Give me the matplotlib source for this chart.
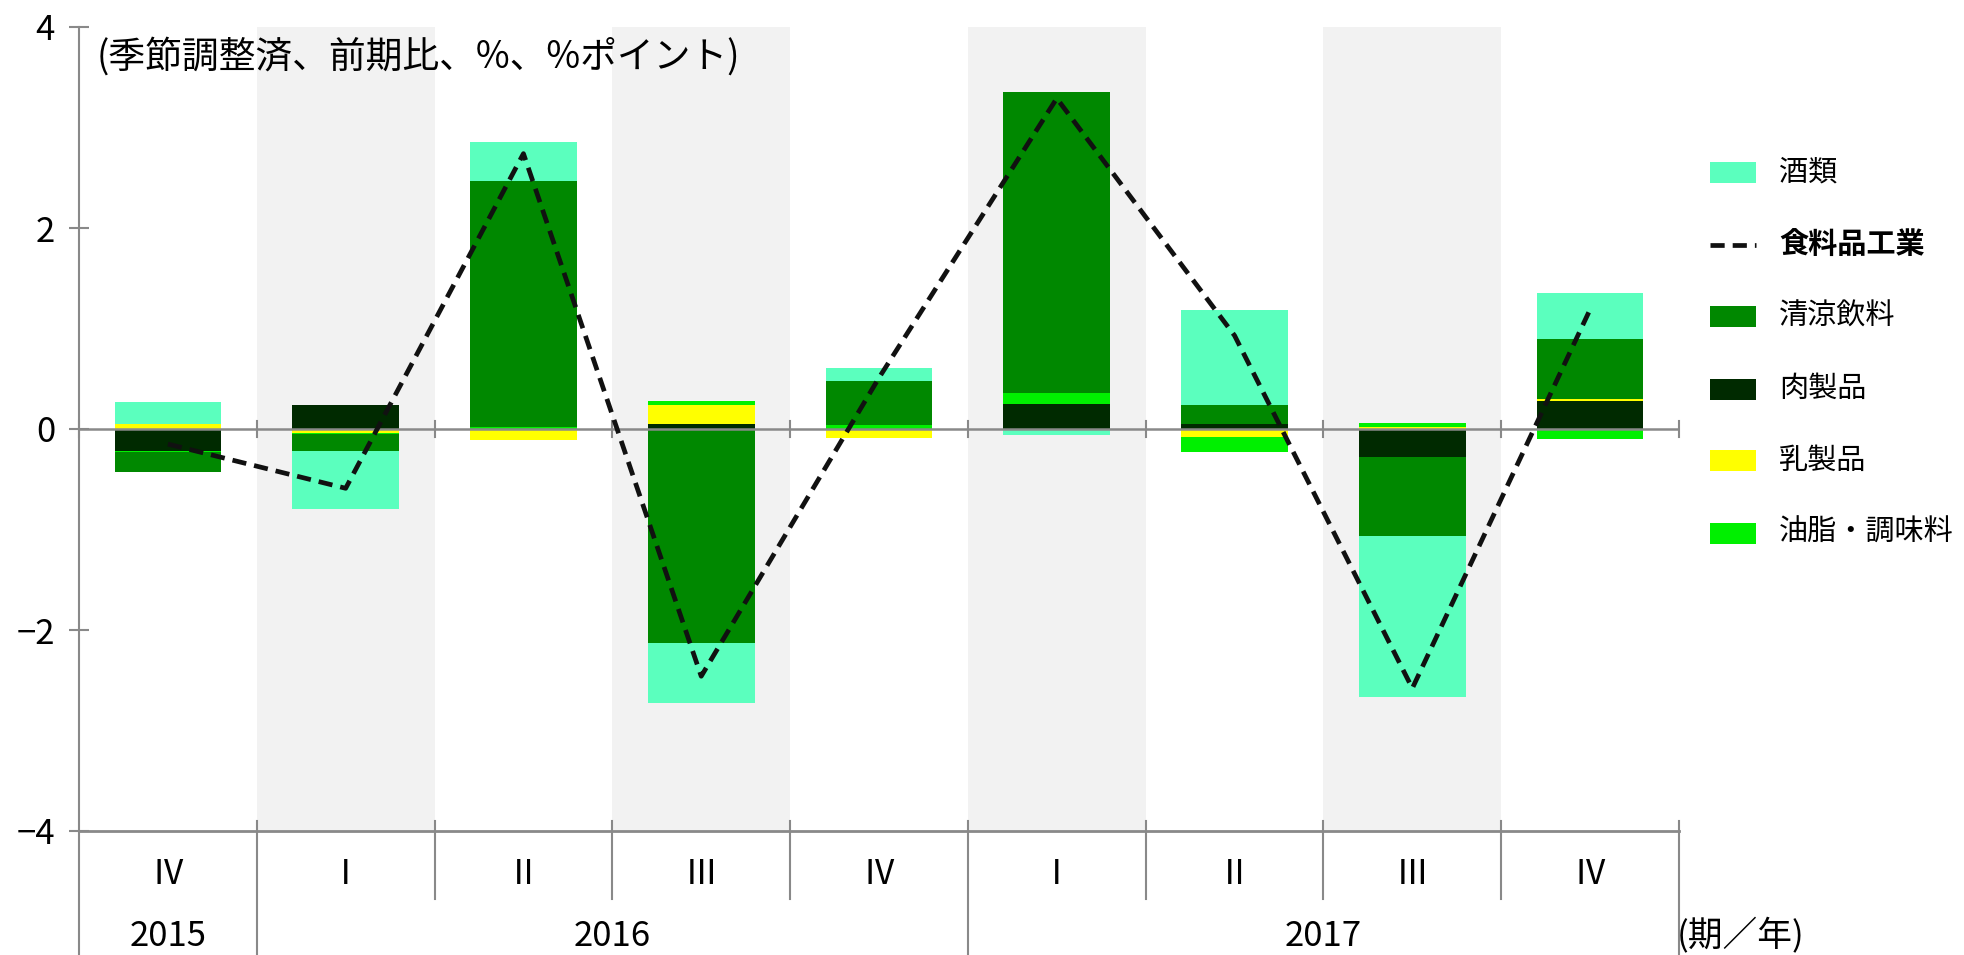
import matplotlib
matplotlib.use("Agg")
import matplotlib.pyplot as plt
import numpy as np
from matplotlib.patches import Rectangle
from matplotlib.lines import Line2D
import matplotlib.transforms as mtransforms

plt.rcParams['font.family'] = ['Noto Sans CJK JP', 'DejaVu Sans']

# ---- data ----
quarters = ['Ⅳ', 'Ⅰ', 'Ⅱ', 'Ⅲ', 'Ⅳ', 'Ⅰ', 'Ⅱ', 'Ⅲ', 'Ⅳ']
years = ['2015', '2016', '2017']
year_start = [0, 1, 5]
year_end = [0, 4, 8]

# stacking order (from zero outward)
meat = [-0.22, 0.24, -0.01, 0.05, 0.00, 0.25, 0.05, -0.28, 0.28]        # 肉製品
dairy = [0.05, -0.04, -0.10, 0.19, -0.09, 0.00, -0.08, 0.02, 0.02]      # 乳製品
oils = [-0.01, -0.01, 0.02, 0.04, 0.04, 0.11, -0.15, 0.04, -0.10]       # 油脂・調味料
soft = [-0.20, -0.17, 2.45, -2.13, 0.44, 2.99, 0.19, -0.78, 0.60]       # 清涼飲料
alcohol = [0.22, -0.58, 0.39, -0.60, 0.13, -0.06, 0.94, -1.61, 0.45]    # 酒類
food_total = [-0.15, -0.59, 2.74, -2.46, 0.51, 3.29, 0.93, -2.58, 1.19]  # 食料品工業

series_names = ['肉製品', '乳製品', '油脂・調味料', '清涼飲料', '酒類']
series_vals = [meat, dairy, oils, soft, alcohol]
series_colors = ['#002A00', '#FFFF00', '#00F000', '#008800', '#5BFFBE']
line_name = '食料品工業'

legend_order = ['酒類', line_name, '清涼飲料', '肉製品', '乳製品', '油脂・調味料']

W, H = 1964, 955
fig = plt.figure(figsize=(W / 100, H / 100), dpi=100)
ax = fig.add_axes([79 / W, 1 - 831 / H, 1600 / W, 804 / H])

GRAY = '#898989'
x = np.arange(len(quarters))

# shaded bands
for i in [1, 3, 5, 7]:
    ax.axvspan(i - 0.5, i + 0.5, color='#F2F2F2', zorder=0, lw=0)

pos = np.zeros(len(x))
neg = np.zeros(len(x))
for vals, col in zip(series_vals, series_colors):
    v = np.array(vals)
    bottom = np.where(v >= 0, pos, neg)
    ax.bar(x, v, bottom=bottom, width=0.6, color=col, edgecolor='none', zorder=2)
    pos = pos + np.where(v >= 0, v, 0)
    neg = neg + np.where(v < 0, v, 0)

ax.plot(x, food_total, color='#111111', lw=3.4, dashes=(3.0, 1.7), zorder=4)

ax.axhline(0, color=GRAY, lw=1.8, zorder=3)

ax.set_xlim(-0.5, len(x) - 0.5)
ax.set_ylim(-4, 4)
ax.set_yticks([-4, -2, 0, 2, 4])
ax.tick_params(axis='y', direction='inout', length=14.4, width=1.5, color=GRAY,
               labelsize=25, pad=10)
ax.set_xticks([])
for s in ['top', 'right']:
    ax.spines[s].set_visible(False)
ax.spines['left'].set_color(GRAY)
ax.spines['left'].set_linewidth(1.5)
ax.spines['bottom'].set_color(GRAY)
ax.spines['bottom'].set_linewidth(2.0)

trans = mtransforms.blended_transform_factory(ax.transData, ax.transAxes)
axh = 804.0
bounds = np.arange(len(x) + 1) - 0.5
year_bounds = [-0.5, 0.5, 4.5, 8.5]
for b in bounds:
    # zero-line tick
    ax.plot([b, b], [0.5 - 8 / axh, 0.5 + 8 / axh], transform=trans, color=GRAY,
            lw=1.5, clip_on=False, zorder=3)
    lo = -(955 - 831) / axh if b in year_bounds else -(899 - 831) / axh
    top = 10 / axh if b != -0.5 else 0
    ax.plot([b, b], [lo, top], transform=trans, color=GRAY, lw=1.5,
            clip_on=False, zorder=3)

for i, q in enumerate(quarters):
    ax.text(i, -(874 - 831) / axh, q, transform=trans, ha='center', va='center',
            fontsize=24)
for yl, s, e in zip(years, year_start, year_end):
    ax.text((s + e) / 2, -(936 - 831) / axh, yl, transform=trans, ha='center',
            va='center', fontsize=25)

fig.text(1677 / W, 1 - 936 / H, '(期／年)', ha='left', va='center', fontsize=25)
fig.text(97 / W, 1 - 57 / H, '(季節調整済、前期比、%、%ポイント)', ha='left',
         va='center', fontsize=26.5)

# legend
name_to_color = dict(zip(series_names, series_colors))
for k, name in enumerate(legend_order):
    yc = 173 + 72 * k
    if name == line_name:
        fig.add_artist(Line2D([1710 / W, 1756 / W], [1 - yc / H, 1 - yc / H],
                              color='#111111', lw=3.4, dashes=(3.0, 1.7)))
        fig.text(1779 / W, 1 - yc / H, name, ha='left', va='center',
                 fontsize=21, fontweight='bold')
    else:
        fig.add_artist(Rectangle((1710 / W, 1 - (yc + 10.5) / H), 46 / W, 21 / H,
                                 color=name_to_color[name], lw=0))
        fig.text(1779 / W, 1 - yc / H, name, ha='left', va='center', fontsize=21)

fig.savefig('out.png', dpi=100)
